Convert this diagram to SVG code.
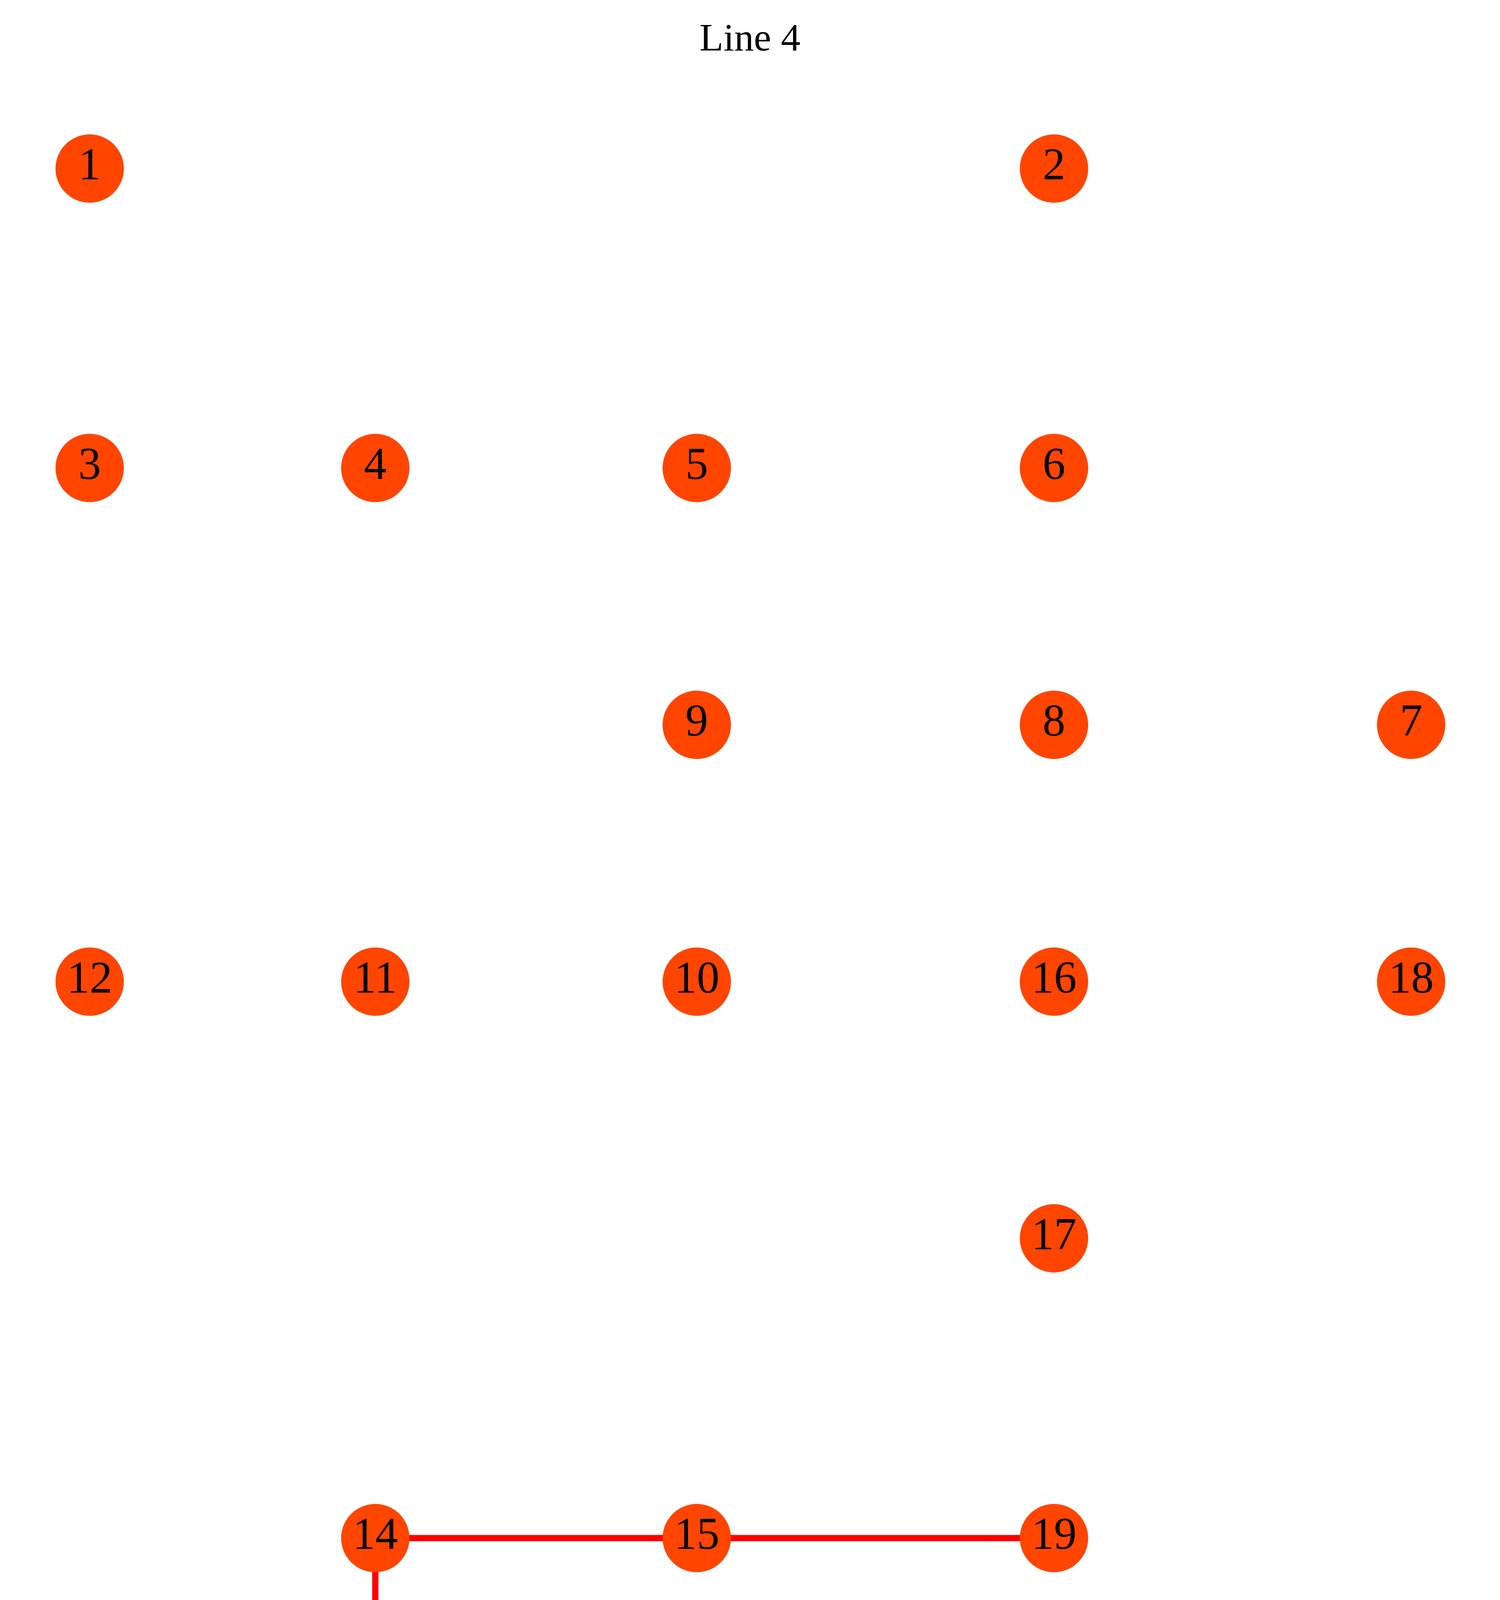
<svg xmlns="http://www.w3.org/2000/svg" width="3839" height="5783" viewBox="0 0 3839 5783">
<style>
.node circle{fill:#ff4500;stroke:none}
.node text{font-family:"Liberation Serif","Times New Roman",serif;font-size:116px;fill:#000;text-anchor:middle}
.edge{stroke:#ff0000;stroke-width:16;fill:none}
.title{font-family:"Liberation Serif","Times New Roman",serif;font-size:100px;fill:#000;text-anchor:middle}
</style>
<rect x="0" y="0" width="3839" height="5783" fill="#ffffff"/>
<text class="title" x="1919.5" y="129">Line 4</text>
<g id="edges">
<line class="edge" x1="960.5" y1="3937.5" x2="1783.3" y2="3937.5"/>
<line class="edge" x1="1783.3" y1="3937.5" x2="2697.5" y2="3937.5"/>
<line class="edge" x1="960.5" y1="3937.5" x2="960.5" y2="4594.5"/>
<line class="edge" x1="960.5" y1="4594.5" x2="1783.3" y2="4594.5"/>
<line class="edge" x1="1783.3" y1="4594.5" x2="2697.5" y2="5471.5"/>
<line class="edge" x1="229.5" y1="5471.5" x2="960.5" y2="5471.5"/>
<line class="edge" x1="960.5" y1="5471.5" x2="1783.3" y2="5471.5"/>
<line class="edge" x1="1783.3" y1="5471.5" x2="2697.5" y2="5471.5"/>
</g>
<g id="n1" class="node"><circle cx="229.5" cy="431.5" r="87.5"/><text x="229.5" y="459">1</text></g>
<g id="n2" class="node"><circle cx="2697.5" cy="431.5" r="87.5"/><text x="2697.5" y="459">2</text></g>
<g id="n3" class="node"><circle cx="229.5" cy="1198" r="87.5"/><text x="229.5" y="1225.5">3</text></g>
<g id="n4" class="node"><circle cx="960.5" cy="1198" r="87.5"/><text x="960.5" y="1225.5">4</text></g>
<g id="n5" class="node"><circle cx="1783.3" cy="1198" r="87.5"/><text x="1783.3" y="1225.5">5</text></g>
<g id="n6" class="node"><circle cx="2697.5" cy="1198" r="87.5"/><text x="2697.5" y="1225.5">6</text></g>
<g id="n7" class="node"><circle cx="3611.5" cy="1855.5" r="87.5"/><text x="3611.5" y="1883">7</text></g>
<g id="n8" class="node"><circle cx="2697.5" cy="1855.5" r="87.5"/><text x="2697.5" y="1883">8</text></g>
<g id="n9" class="node"><circle cx="1783.3" cy="1855.5" r="87.5"/><text x="1783.3" y="1883">9</text></g>
<g id="n10" class="node"><circle cx="1783.3" cy="2513" r="87.5"/><text x="1783.3" y="2540.5">10</text></g>
<g id="n11" class="node"><circle cx="960.5" cy="2513" r="87.5"/><text x="960.5" y="2540.5">11</text></g>
<g id="n12" class="node"><circle cx="229.5" cy="2513" r="87.5"/><text x="229.5" y="2540.5">12</text></g>
<g id="n16" class="node"><circle cx="2697.5" cy="2513" r="87.5"/><text x="2697.5" y="2540.5">16</text></g>
<g id="n18" class="node"><circle cx="3611.5" cy="2513" r="87.5"/><text x="3611.5" y="2540.5">18</text></g>
<g id="n17" class="node"><circle cx="2697.5" cy="3170" r="87.5"/><text x="2697.5" y="3197.5">17</text></g>
<g id="n14" class="node"><circle cx="960.5" cy="3937.5" r="87.5"/><text x="960.5" y="3965">14</text></g>
<g id="n15" class="node"><circle cx="1783.3" cy="3937.5" r="87.5"/><text x="1783.3" y="3965">15</text></g>
<g id="n19" class="node"><circle cx="2697.5" cy="3937.5" r="87.5"/><text x="2697.5" y="3965">19</text></g>
<g id="n23" class="node"><circle cx="960.5" cy="4594.5" r="87.5"/><text x="960.5" y="4622">23</text></g>
<g id="n22" class="node"><circle cx="1783.3" cy="4594.5" r="87.5"/><text x="1783.3" y="4622">22</text></g>
<g id="n13" class="node"><circle cx="229.5" cy="5471.5" r="87.5"/><text x="229.5" y="5499">13</text></g>
<g id="n24" class="node"><circle cx="960.5" cy="5471.5" r="87.5"/><text x="960.5" y="5499">24</text></g>
<g id="n21" class="node"><circle cx="1783.3" cy="5471.5" r="87.5"/><text x="1783.3" y="5499">21</text></g>
<g id="n20" class="node"><circle cx="2697.5" cy="5471.5" r="87.5"/><text x="2697.5" y="5499">20</text></g>
</svg>
